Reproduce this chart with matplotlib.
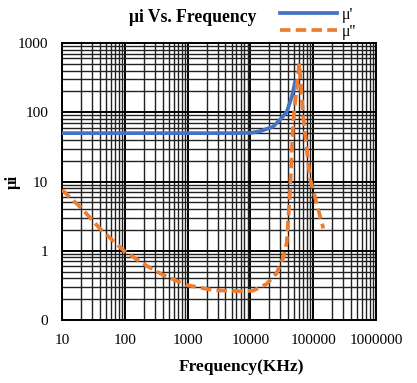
import matplotlib
matplotlib.use("Agg")
from matplotlib import pyplot as plt
from matplotlib.ticker import LogLocator, FuncFormatter

# mu' (real part)
f_real = [10, 100, 1000, 5000, 10000, 14000, 23000, 29500, 37800, 45700, 51500]
mu_real = [50, 50, 50, 50, 50.5, 53, 62, 78, 101, 168, 277]

# mu'' (imaginary part)
f_imag = [10, 20, 40, 97, 196, 400, 965, 2530, 6800, 11000, 18000, 26000,
          33000, 37800, 42700, 48000, 60000, 69000, 89000, 145000]
mu_imag = [7.6, 4.2, 2.1, 1.0, 0.65, 0.45, 0.32, 0.27, 0.26, 0.265, 0.33, 0.47,
           0.78, 1.3, 7, 74, 510, 90, 11, 2.1]

x_ticks = [10, 100, 1000, 10000, 100000, 1000000]
y_ticks = [0.1, 1, 10, 100, 1000]

plt.rcParams['font.family'] = ['Liberation Serif', 'DejaVu Serif']
plt.rcParams['font.size'] = 11

fig = plt.figure(figsize=(4.17, 3.83), dpi=100)
ax = fig.add_axes([0.1487, 0.1645, 0.753, 0.723])
ax.set_xscale("log")
ax.set_yscale("log")
ax.set_xlim(10, 1000000)
ax.set_ylim(0.1, 1000)

ax.plot(f_real, mu_real, color="#4472C4", lw=2.7, label="\u03bc'", zorder=3)
ax.plot(f_imag, mu_imag, color="#ED7D31", lw=2.7, ls="--", dashes=(2.8, 1.4),
        label="\u03bc''", zorder=3)

ax.xaxis.set_minor_locator(LogLocator(base=10, subs=range(2, 10)))
ax.yaxis.set_minor_locator(LogLocator(base=10, subs=range(2, 10)))
ax.set_xticks(x_ticks)
ax.set_yticks(y_ticks)
ax.xaxis.set_major_formatter(FuncFormatter(lambda v, p: "%d" % v))
ax.yaxis.set_major_formatter(FuncFormatter(lambda v, p: "%d" % v))
ax.grid(which="major", color="black", lw=1.4)
ax.grid(which="minor", color="#222222", lw=1.0)
ax.tick_params(which="both", length=0)
ax.tick_params(axis="y", pad=10)
ax.tick_params(axis="x", pad=10)
for s in ax.spines.values():
    s.set_color("black")
    s.set_linewidth(1.4)

ax.set_xlabel("Frequency(KHz)", fontweight="bold", fontsize=12.5)
ax.xaxis.set_label_coords(0.573, -0.14)
ax.set_ylabel("\u03bci", fontweight="bold", fontsize=12)
ax.yaxis.set_label_coords(-0.13, 0.5)
fig.text(0.463, 0.955, "\u03bci Vs. Frequency", fontweight="bold", fontsize=12.7,
         ha="center", va="center")
fig.legend(loc="upper left", bbox_to_anchor=(0.636, 1.02), frameon=False,
           handlelength=3.6, labelspacing=0.05, handletextpad=0.3, fontsize=11.5)

plt.savefig("out.png", dpi=100)
